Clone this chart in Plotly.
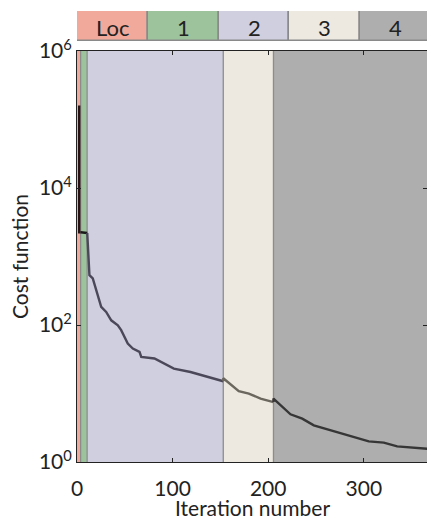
import plotly.graph_objects as go

# ---- data ----
stage_names = ["Loc", "1", "2", "3", "4"]
stage_colors = ["#F0A99B", "#9DC39D", "#CFCFDF", "#EDE9E1", "#AEAEAE"]
stage_bounds = [0, 3.8, 10.6, 153, 205.5, 370]
line_colors = ["#2a1212", "#1a1a1a", "#4b4859", "#6b665e", "#363636"]

loc_x = [2.3, 2.3, 3.8]
loc_y = [160000, 2260, 2260]
s1_x = [3.8, 10.7]
s1_y = [2260, 2200]
s2_x = [10.7, 12, 13, 16.5, 20, 25.3, 30.5, 35.8, 42.7, 46.2, 53.1, 58.4, 65.4, 67.2,
        81, 101.3, 118.7, 136.2, 153]
s2_y = [2200, 1120, 535, 479, 323, 184, 155, 117, 99, 84, 53.6, 45.3, 40.4, 34.2,
        32.4, 23.1, 20.6, 17.4, 15.1]
s3_x = [153, 153, 169.2, 179.7, 192, 205.5]
s3_y = [15.1, 16.7, 10.8, 9.97, 8.42, 7.5]
s4_x = [205.5, 205.5, 223.3, 235.6, 247.7, 265.2, 286.1, 305.2, 320.9, 334.9, 366.3]
s4_y = [7.5, 8.42, 4.97, 4.3, 3.43, 2.9, 2.39, 2.0, 1.92, 1.69, 1.56]

x_ticks = [0, 100, 200, 300]
y_ticks = [1, 100, 10000, 1000000]
y_tick_text = ["10<sup>0</sup>", "10<sup>2</sup>", "10<sup>4</sup>", "10<sup>6</sup>"]

FONT = "Lato"
FS = 21
W, H = 427, 516
mt, mb, ml, mr = 11, 54, 77, 0
ph = H - mt - mb
main_top = (462 - 51) / ph
leg_bottom = (462 - 41) / ph

fig = go.Figure()

segs = [(loc_x, loc_y), (s1_x, s1_y), (s2_x, s2_y), (s3_x, s3_y), (s4_x, s4_y)]
for (xs, ys), c in zip(segs, line_colors):
    fig.add_trace(go.Scatter(x=xs, y=ys, mode="lines", line=dict(color=c, width=2.4),
                             showlegend=False, hoverinfo="skip", xaxis="x", yaxis="y"))

# stage background regions
for i, c in enumerate(stage_colors):
    fig.add_shape(type="rect", xref="x", yref="y domain", x0=stage_bounds[i], x1=stage_bounds[i + 1],
                  y0=0, y1=1, fillcolor=c, line_width=0, layer="below")
for b in stage_bounds[1:-1]:
    fig.add_shape(type="line", xref="x", yref="y domain", x0=b, x1=b, y0=0, y1=1,
                  line=dict(color="#8c8c8c", width=1.3), layer="below")

# legend bar on top
fig.add_trace(go.Bar(y=[0] * 5, x=[1] * 5, base=list(range(5)), orientation="h", width=1,
                     marker=dict(color=stage_colors, line=dict(color="#8a8a8a", width=1.5)),
                     showlegend=False, hoverinfo="skip", xaxis="x2", yaxis="y2"))
for i, name in enumerate(stage_names):
    fig.add_annotation(x=i + 0.5, y=0, xref="x2", yref="y2", text=name, showarrow=False,
                       font=dict(family=FONT, size=22, color="#222"), yshift=-1)

# x-axis title
fig.add_annotation(x=0.5, y=(462 - 517) / ph, xref="paper", yref="paper", text="Iteration number",
                   showarrow=False, yanchor="bottom", xanchor="center", borderpad=0, yshift=-4,
                   font=dict(family=FONT, size=FS, color="#222"))

axis_common = dict(showline=True, linecolor="#222", linewidth=1, mirror="ticks", ticks="inside",
                   ticklen=4, tickcolor="#222", showgrid=False, zeroline=False,
                   tickfont=dict(family=FONT, size=FS, color="#222"))

fig.update_layout(
    width=W, height=H, margin=dict(l=ml, r=mr, t=mt, b=mb, autoexpand=False),
    paper_bgcolor="white", plot_bgcolor="white",
    font=dict(family=FONT, color="#222"),
    xaxis=dict(range=[0, 366.1], tickvals=x_ticks, domain=[0, 1], anchor="y",
               ticklabelstandoff=8, automargin=False, **axis_common),
    yaxis=dict(type="log", range=[0, 6], tickvals=y_ticks, ticktext=y_tick_text,
               domain=[0, main_top], anchor="x", automargin=False,
               title=dict(text="Cost function", font=dict(family=FONT, size=FS), standoff=4),
               **axis_common),
    xaxis2=dict(range=[0, 350 / 70.8], domain=[0, 1], anchor="y2", visible=False),
    yaxis2=dict(range=[-0.5, 0.5], domain=[leg_bottom, 1], anchor="x2", visible=False),
    bargap=0,
)

fig.write_html("out.html")
